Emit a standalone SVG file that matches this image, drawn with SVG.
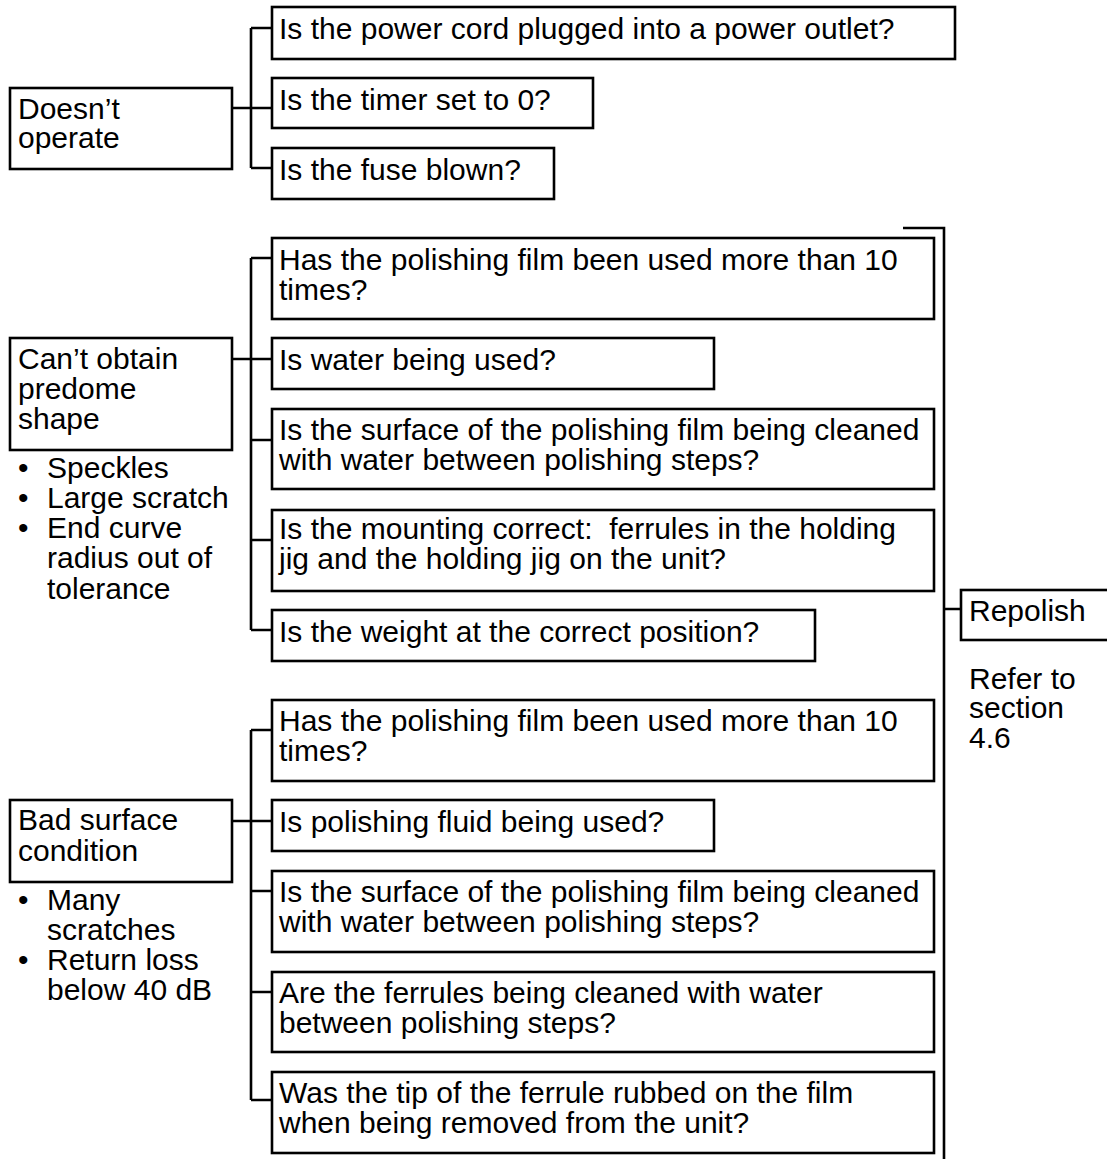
<svg xmlns="http://www.w3.org/2000/svg" width="1107" height="1159" viewBox="0 0 1107 1159">
<style>
rect{fill:#fff;stroke:#000;stroke-width:2.6}
.c{fill:none;stroke:#000;stroke-width:2.6}
text{font-family:"Liberation Sans",Arial,sans-serif;font-size:30px;fill:#000}
</style>
<rect x="0" y="0" width="1107" height="1159" style="stroke:none"/>
<g id="connectors">
<path class="c" d="M232,108H272M251,28V168M251,28H272M251,168H272"/>
<path class="c" d="M232,359H272M251,258V630M251,258H272M251,440H272M251,540H272M251,630H272"/>
<path class="c" d="M232,821H272M251,730V1100M251,730H272M251,891H272M251,992H272M251,1100H272"/>
<path class="c" d="M903,228H944V1160M944,609H961"/>
</g>
<g id="n-doesnt">
<rect x="10" y="88" width="222" height="81"/>
<text x="18" y="119">Doesn’t</text>
<text x="18" y="148">operate</text>
</g>
<g id="q1"><rect x="272" y="7" width="683" height="52"/><text x="279" y="39">Is the power cord plugged into a power outlet?</text></g>
<g id="q2"><rect x="272" y="78" width="321" height="50"/><text x="279" y="110">Is the timer set to 0?</text></g>
<g id="q3"><rect x="272" y="148" width="282" height="51"/><text x="279" y="180">Is the fuse blown?</text></g>

<g id="n-predome">
<rect x="10" y="338" width="222" height="112"/>
<text x="18" y="369">Can’t obtain</text>
<text x="18" y="399">predome</text>
<text x="18" y="429">shape</text>
<text x="18" y="478">•</text><text x="47" y="478">Speckles</text>
<text x="18" y="508">•</text><text x="47" y="508">Large scratch</text>
<text x="18" y="538">•</text><text x="47" y="538">End curve</text>
<text x="47" y="568">radius out of</text>
<text x="47" y="599">tolerance</text>
</g>
<g id="q4"><rect x="272" y="238" width="662" height="81"/><text x="279" y="270">Has the polishing film been used more than 10</text><text x="279" y="299.5">times?</text></g>
<g id="q5"><rect x="272" y="338" width="442" height="51"/><text x="279" y="370">Is water being used?</text></g>
<g id="q6"><rect x="272" y="409" width="662" height="80"/><text x="279" y="440">Is the surface of the polishing film being cleaned</text><text x="279" y="469.5">with water between polishing steps?</text></g>
<g id="q7"><rect x="272" y="510" width="662" height="81"/><text x="279" y="539">Is the mounting correct:&#160; ferrules in the holding</text><text x="279" y="568.5">jig and the holding jig on the unit?</text></g>
<g id="q8"><rect x="272" y="610" width="543" height="51"/><text x="279" y="642">Is the weight at the correct position?</text></g>

<g id="n-surface">
<rect x="10" y="800" width="222" height="82"/>
<text x="18" y="830">Bad surface</text>
<text x="18" y="861">condition</text>
<text x="18" y="910">•</text><text x="47" y="910">Many</text>
<text x="47" y="940">scratches</text>
<text x="18" y="970">•</text><text x="47" y="970">Return loss</text>
<text x="47" y="1000">below 40 dB</text>
</g>
<g id="q9"><rect x="272" y="700" width="662" height="81"/><text x="279" y="731">Has the polishing film been used more than 10</text><text x="279" y="760.5">times?</text></g>
<g id="q10"><rect x="272" y="800" width="442" height="51"/><text x="279" y="832">Is polishing fluid being used?</text></g>
<g id="q11"><rect x="272" y="871" width="662" height="81"/><text x="279" y="902">Is the surface of the polishing film being cleaned</text><text x="279" y="931.5">with water between polishing steps?</text></g>
<g id="q12"><rect x="272" y="972" width="662" height="80"/><text x="279" y="1003">Are the ferrules being cleaned with water</text><text x="279" y="1032.5">between polishing steps?</text></g>
<g id="q13"><rect x="272" y="1072" width="662" height="81"/><text x="279" y="1103">Was the tip of the ferrule rubbed on the film</text><text x="279" y="1132.5">when being removed from the unit?</text></g>

<g id="n-repolish">
<rect x="961" y="590" width="170" height="50"/>
<text x="969" y="621">Repolish</text>
<text x="969" y="689">Refer to</text>
<text x="969" y="718">section</text>
<text x="969" y="748">4.6</text>
</g>
</svg>
